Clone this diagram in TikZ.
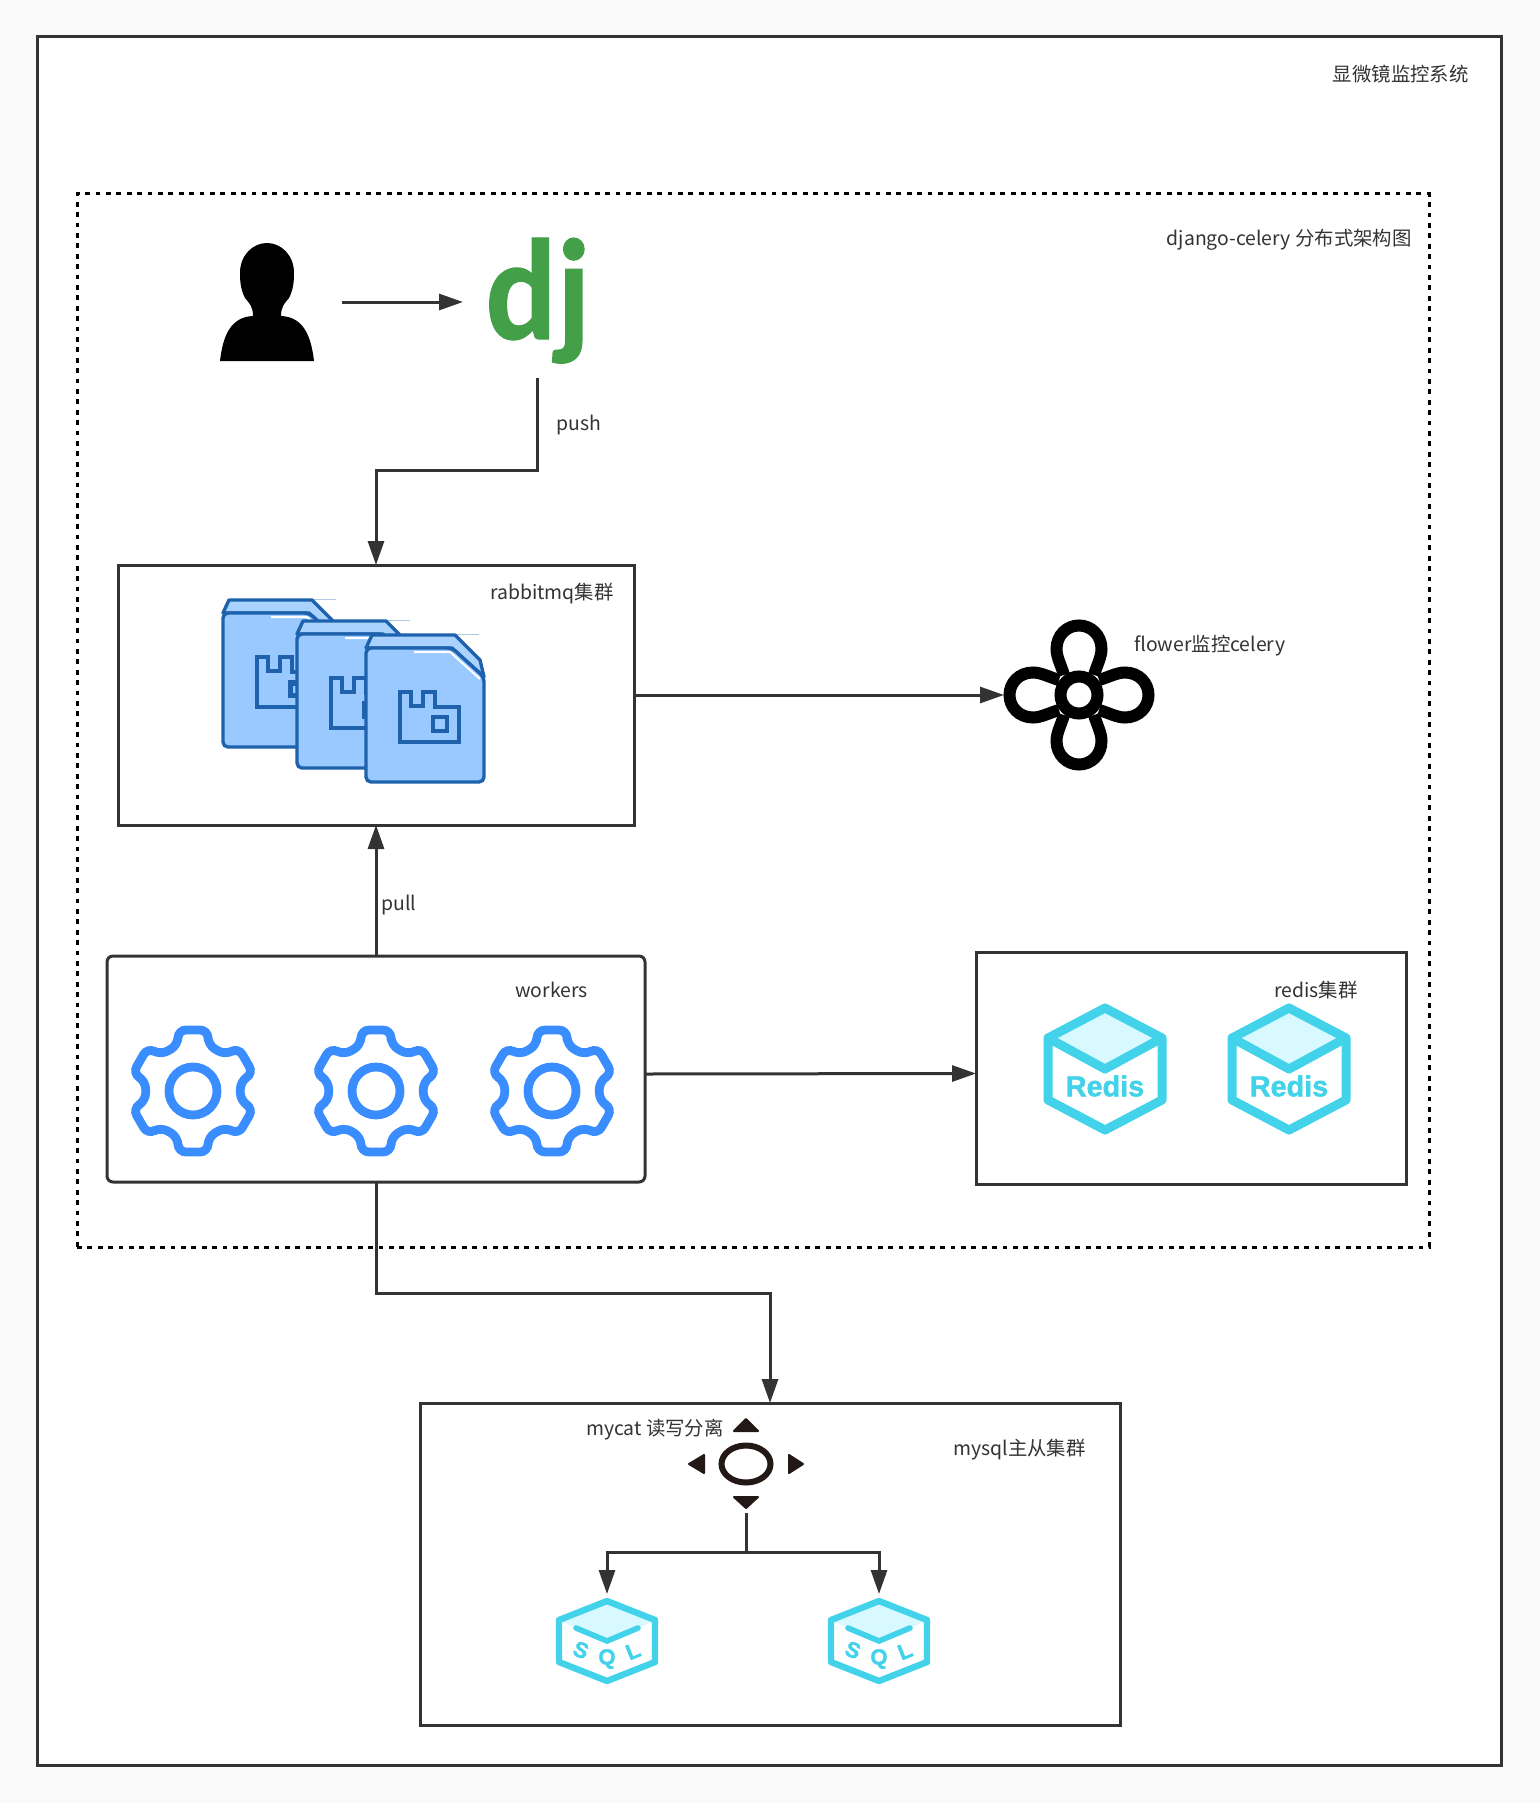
\documentclass[tikz,border=0pt]{standalone}
\usepackage{fontspec}
\setmainfont{Noto Sans CJK SC}
\newfontfamily\logofont[BoldFeatures={FakeBold=0.8}]{Carlito}
\newfontfamily\badgefont[BoldFeatures={FakeBold=1.5}]{Liberation Sans}
\usetikzlibrary{arrows.meta, positioning, backgrounds}
\definecolor{inkgray}{HTML}{333333}
\definecolor{filelight}{HTML}{AAD2FF}
\definecolor{fileface}{HTML}{99C9FF}
\definecolor{fileline}{HTML}{1E62AD}
\definecolor{gearblue}{HTML}{3A8DFF}
\definecolor{hexcyan}{HTML}{42D3EA}
\definecolor{hexlight}{HTML}{D7F9FF}
\definecolor{djgreen}{HTML}{44A048}
\definecolor{mycatdark}{HTML}{231815}
\tikzset{
	>={Triangle[length=12pt,width=8pt]}, % long solid arrow heads
	flow/.style={->, inkgray, line width=1.5pt}, % every connector
	groupbox/.style={draw=inkgray, line width=1.5pt, fill=white, inner sep=0pt, outer sep=0pt},
	icon/.style={inner sep=0pt, outer sep=0pt}, % empty node that holds the place of an icon
	caption/.style={text=inkgray, font=\fontsize{9.7}{12}\selectfont, inner sep=0pt},
	usericon/.pic={
		\fill[black] (-47,59) .. controls (-44,33) and (-36,15) .. (-14,14)
			.. controls (-14,4) and (-18,1) .. (-22,-4)
			.. controls (-26,-12) and (-27,-19) .. (-27,-29)
			.. controls (-27,-47) and (-14,-59) .. (0,-59)
			.. controls (14,-59) and (27,-47) .. (27,-29)
			.. controls (27,-19) and (26,-12) .. (22,-4)
			.. controls (18,1) and (14,4) .. (14,14)
			.. controls (36,15) and (44,33) .. (47,59) -- cycle;
	},
	fileicon/.pic={
		\draw[fileline!35, line width=0.5pt] (89,-1) -- (113,-1);
		\filldraw[draw=fileline, fill=filelight, line width=1.7pt, line join=round]
			(0,13) -- (6,0) -- (89,0) -- (114,25) -- (118,42) -- (86,13) -- cycle;
		\filldraw[draw=fileline, fill=fileface, line width=1.7pt, rounded corners=2.5pt]
			(0,13) -- (86,13) -- (118,42) -- (118,147) -- (0,147) -- cycle;
		\draw[white, line width=1pt] (48,17) -- (84,17) -- (114,44);
		\draw[fileline, line width=1.7pt, line join=miter]
			(34,57) -- (45,57) -- (45,71) -- (57,71) -- (57,57) -- (69,57) -- (69,72)
			-- (93,72) -- (93,107) -- (34,107) -- cycle
			(67,82) rectangle (81,96);
	},
	gearicon/.pic={
		\draw[gearblue, line width=4.4pt, rounded corners=4pt]
			(15,-46) \foreach \a in {0,60,...,300}{
				-- ([rotate=\a]15,-46) -- ([rotate=\a]15,-61) -- ([rotate=\a]-15,-61) -- ([rotate=\a]-15,-46)
			} -- cycle;
		\draw[gearblue, line width=4.4pt] (0,0) circle [x radius=24, y radius=-24];
	},
	flowericon/.pic={
		\foreach \a in {0,90,180,270}{
			\draw[black, line width=6pt, rotate=\a] (-15,-20) .. controls (-18,-30) and (-22.5,-38) .. (-22.5,-46)
				.. controls (-22.5,-60) and (-12,-69.5) .. (0,-69.5)
				.. controls (12,-69.5) and (22.5,-60) .. (22.5,-46)
				.. controls (22.5,-38) and (18,-30) .. (15,-20);
		}
		\draw[black, line width=6pt] (0,0) circle [x radius=18.5, y radius=-18.5];
	},
	redisicon/.pic={
		\fill[hexlight] (-57,-31) -- (0,-61) -- (57,-31) -- (0,0) -- cycle;
		\draw[hexcyan, line width=4.5pt, line join=round]
			(0,-61) -- (57,-31) -- (57,31) -- (0,61) -- (-57,31) -- (-57,-31) -- cycle
			(-57,-31) -- (0,0) -- (57,-31);
		\node[text=hexcyan, font=\badgefont\bfseries\fontsize{14.4}{15}\selectfont, inner sep=0pt] (redistag) at (0,17) {Redis};
	},
	sqlicon/.pic={
		\fill[hexlight] (-48,-21) -- (0,-40) -- (48,-21) -- (0,1) -- cycle;
		\draw[hexcyan, line width=3.2pt, line join=round]
			(0,-40) -- (48,-21) -- (48,21) -- (0,40) -- (-48,21) -- (-48,-21) -- cycle;
		\draw[hexcyan, line width=2.8pt, line cap=round] (-31,-13) -- (0,0) -- (31,-13);
		\node[text=hexcyan, font=\badgefont\bfseries\fontsize{11}{11}\selectfont, inner sep=0pt, rotate=-22] (sqlS) at (-26,9) {S};
		\node[text=hexcyan, font=\badgefont\bfseries\fontsize{11}{11}\selectfont, inner sep=0pt] (sqlQ) at (0,18) {Q};
		\node[text=hexcyan, font=\badgefont\bfseries\fontsize{11}{11}\selectfont, inner sep=0pt, rotate=22] (sqlL) at (26,10) {L};
	},
	mycaticon/.pic={
		\draw[mycatdark, line width=3pt] (0,0) circle [x radius=24.5, y radius=-18.5];
		\filldraw[mycatdark, line width=1pt, line join=round]
			(-12,-33) -- (12,-33) -- (0,-45) -- cycle
			(-12,33) -- (12,33) -- (0,44) -- cycle
			(-42,-9) -- (-42,9) -- (-57,0) -- cycle
			(43,-9) -- (43,9) -- (57,0) -- cycle;
	},
}
\begin{document}
\begin{tikzpicture}[x=0.5pt, y=-0.5pt]
	\useasboundingbox[fill=black!2] (0,0) rectangle (1540,1803);
	% the two frames
	\node[groupbox, minimum width=732pt, minimum height=864pt] (system) at (769,901) {};
	\node[inner sep=0pt, outer sep=0pt, draw=black, line width=1.5pt, dash pattern=on 2.4pt off 2.8pt,
		minimum width=676pt, minimum height=526.5pt] (cluster) at (753,720.5) {};
	% boxes
	\node[groupbox, minimum width=258pt, minimum height=130pt] (rabbitmq) at (376,695) {};
	\node[groupbox, rounded corners=3pt, minimum width=269pt, minimum height=113pt] (workers) at (376,1069) {};
	\node[groupbox, minimum width=215pt, minimum height=116pt] (redis) at (1191,1068.5) {};
	\node[groupbox, minimum width=350pt, minimum height=161pt] (mysql) at (770,1564) {};
	% icon places
	\node[icon, minimum width=75pt, minimum height=60pt] (user) at (267,302) {};
	\node[icon, minimum width=74pt, minimum height=76pt] (dj) at (537,302) {};
	\node[icon, minimum size=75pt] (flower) at (1079,695) {};
	\node[icon, minimum width=60pt, minimum height=49pt] (mycat) at (746,1464) {};
	\node[icon, minimum width=51pt, minimum height=47pt] (sqlA) at (607,1641) {};
	\node[icon, minimum width=51pt, minimum height=47pt] (sqlB) at (879,1641) {};
	\coordinate (split) at (746,1552);
	% icons
	\pic at (user) {usericon};
	\node[icon, text=djgreen, font=\logofont\bfseries\fontsize{72}{72}\selectfont, anchor=base, xscale=0.92] (djmark) at (538,339) {dj};
	\pic at (223,600) {fileicon};
	\draw[fileline, line width=1.7pt] (297,672) -- (303,672) (297,707) -- (303,707) (297,747) -- (303,747) (291,684) rectangle (304,695);
	\pic at (297,621) {fileicon};
	\draw[fileline, line width=1.7pt] (366,693) -- (372,693) (366,727) -- (372,727) (366,769) -- (372,769) (366,704) -- (371,704) (366,717) -- (371,717);
	\pic at (366,635) {fileicon};
	\pic at (flower) {flowericon};
	\pic at (193,1091) {gearicon};
	\pic at (376,1091) {gearicon};
	\pic at (552,1091) {gearicon};
	\pic at (1105,1069) {redisicon};
	\pic at (1289,1069) {redisicon};
	\pic at (mycat) {mycaticon};
	\pic at (sqlA) {sqlicon};
	\pic at (sqlB) {sqlicon};
	% connectors
	\draw[flow] (user.east) -- (dj.west);
	\draw[flow] (dj.south) -- ++(0,92) -| (rabbitmq.north);
	\draw[flow] (rabbitmq.east) -- (flower.west);
	\draw[flow] (workers.north) -- (rabbitmq.south);
	\draw[flow] ([yshift=-2.5pt]workers.east) -- ([yshift=-2.5pt]redis.west);
	\draw[flow] (workers.south) -- ++(0,111) -| (mysql.north);
	\draw[flow, -] (mycat.south) -- (split);
	\draw[flow] (split) -| (sqlA.north);
	\draw[flow] (split) -| (sqlB.north);
	% captions
	\node[caption, anchor=east] (systemlabel) at (1469,74) {显微镜监控系统};
	\node[caption, anchor=east] (clusterlabel) at (1412,240) {django-celery 分布式架构图};
	\node[caption, anchor=west] (pushlabel) at (556,425) {push};
	\node[caption, anchor=east] (rabbitlabel) at (614,594) {rabbitmq集群};
	\node[caption, anchor=west] (flowerlabel) at (1134,646) {flower监控celery};
	\node[caption, anchor=west] (pulllabel) at (381,905) {pull};
	\node[caption, anchor=east] (workerlabel) at (588,990) {workers};
	\node[caption, anchor=east] (redislabel) at (1358,990) {redis集群};
	\node[caption, anchor=east] (mycatlabel) at (724,1430) {mycat 读写分离};
	\node[caption, anchor=east] (mysqllabel) at (1086,1450) {mysql主从集群};
\end{tikzpicture}
\end{document}
